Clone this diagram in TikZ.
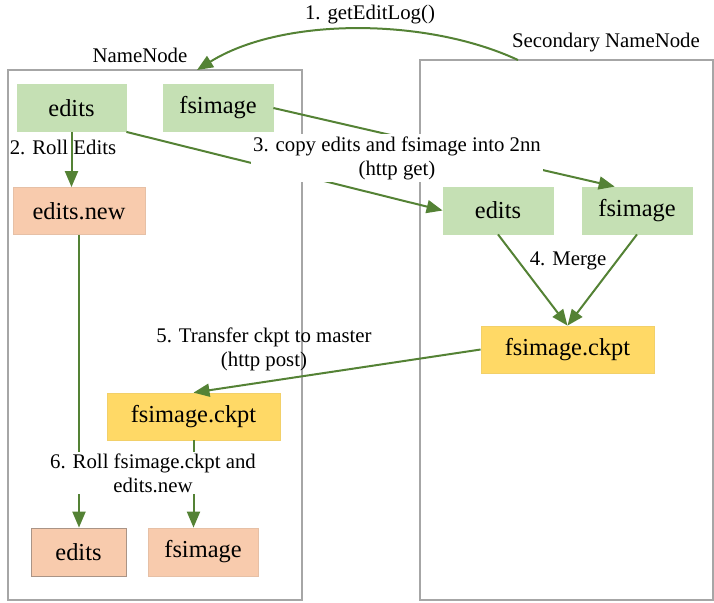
\documentclass[tikz,border=0pt]{standalone}
\usepackage{fontspec}
\setmainfont{Liberation Serif}
\usetikzlibrary{arrows.meta}
\definecolor{flowgreen}{HTML}{548235}
\definecolor{boxgreen}{HTML}{C5E0B4}
\definecolor{boxpeach}{HTML}{F8CBAD}
\definecolor{boxgold}{HTML}{FFD966}
\definecolor{framegray}{HTML}{A6A6A6}
\begin{document}
\begin{tikzpicture}[x=0.5pt,y=-0.5pt,
    lbl/.style={font=\fontsize{10.4}{12}\selectfont, align=center, inner sep=1pt}]
      \useasboundingbox (0,0) rectangle (714,602);
      % the two machines
      \draw[framegray, line width=1pt] (8,70) rectangle (302,600);
      \draw[framegray, line width=1pt] (420,60) rectangle (713,600);
      \node[lbl] (nnname) at (140,55) {NameNode};
      \node[lbl] (snnname) at (606,43) {Secondary NameNode};
      \coordinate (snntop) at (518,60);
      \coordinate (nntop) at (197,70);
      \begin{scope}[every node/.style={rectangle, minimum height=23.5pt,
          font=\fontsize{12.2}{14}\selectfont, line width=0.4pt}]
        \node[fill=boxgreen, draw=boxgreen, minimum width=54.5pt] (edits) at (71.5,108) {edits};
        \node[fill=boxgreen, draw=boxgreen, minimum width=55pt] (fsimage) at (218,108) {fsimage};
        \node[fill=boxpeach, draw=boxpeach!85!gray, minimum width=66pt] (editsnew) at (79,211) {edits.new};
        \node[fill=boxgold, draw=boxgold!90!gray, minimum width=86.5pt] (lckpt) at (193.5,416.5) {fsimage.ckpt};
        \node[fill=boxpeach, draw=boxpeach!60!black!80, minimum width=47.5pt, minimum height=24pt] (bedits) at (78.5,552) {edits};
        \node[fill=boxpeach, draw=boxpeach!85!gray, minimum width=55pt, minimum height=24pt] (bfsimage) at (203,552) {fsimage};
        \node[fill=boxgreen, draw=boxgreen, minimum width=55pt] (sedits) at (498,210.5) {edits};
        \node[fill=boxgreen, draw=boxgreen, minimum width=55pt] (sfsimage) at (637,210.5) {fsimage};
        \node[fill=boxgold, draw=boxgold!90!gray, minimum width=86.5pt] (rckpt) at (567.5,349.5) {fsimage.ckpt};
      \end{scope}
      \begin{scope}
        [every edge/.style={draw=flowgreen, line width=1pt,
        -{Triangle[length=8pt,width=6.5pt]}}]
        \path (snntop) edge[out=155, in=32, looseness=0.8] (nntop);
        \path (edits.south) edge (edits.south |- editsnew.north);
        \path (edits.south east) edge (sedits.west);
        \path (fsimage.east) edge (sfsimage.133);
        \path (sedits.south) edge (rckpt.north);
        \path (sfsimage.south) edge (rckpt.north);
        \path (rckpt.west) edge (lckpt.north);
        \path (editsnew.south) edge (editsnew.south |- bedits.north);
        \path (lckpt.south) edge (lckpt.south |- bfsimage.north);
      \end{scope}
      \node[lbl] (getlog) at (370,15) {1. getEditLog()};
      \node[lbl] (roll) at (63,147) {2. Roll Edits};
      \node[lbl, fill=white] (copy) at (397,158) {3. copy edits and fsimage into 2nn\\(http get)};
      \node[lbl] (merge) at (568,261) {4. Merge};
      \node[lbl] (transfer) at (264,349) {5. Transfer ckpt to master\\(http post)};
      \node[lbl, fill=white] (rollnew) at (153,473) {6. Roll fsimage.ckpt and\\edits.new};
    \end{tikzpicture}
\end{document}
